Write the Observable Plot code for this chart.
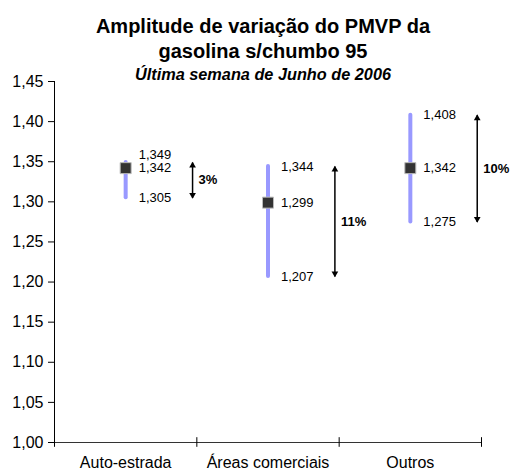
<!DOCTYPE html>
<html>
<head>
<meta charset="utf-8">
<script src="https://cdn.jsdelivr.net/npm/d3@7"></script>
<script src="https://cdn.jsdelivr.net/npm/@observablehq/plot@0.6"></script>
<style>
  body { margin: 0; background: #fff; font-family: "Liberation Sans", Arial, sans-serif; }
  #wrap { position: relative; width: 510px; height: 472px; overflow: hidden; }
  #chart { position: absolute; left: 0; top: 0; }
  .t { position: absolute; left: 0; width: 526px; text-align: center; font-weight: bold; color: #000; white-space: nowrap; }
  #t1 { top: 14px; font-size: 20px; line-height: 25px; }
  #t2 { top: 39px; font-size: 20px; line-height: 25px; }
  #t3 { top: 65px; font-size: 16.3px; line-height: 18px; font-style: italic; }
</style>
</head>
<body>
<div id="wrap">
  <div id="chart"></div>
  <div class="t" id="t1">Amplitude de variação do PMVP da</div>
  <div class="t" id="t2">gasolina s/chumbo 95</div>
  <div class="t" id="t3">Última semana de Junho de 2006</div>
</div>
<script>
const categories = ["Auto-estrada", "Áreas comerciais", "Outros"];
const minValues = [1.305, 1.207, 1.275];
const avgValues = [1.342, 1.299, 1.342];
const maxValues = [1.349, 1.344, 1.408];
const pctLabels = ["3%", "11%", "10%"];
const yTicks = [1.00, 1.05, 1.10, 1.15, 1.20, 1.25, 1.30, 1.35, 1.40, 1.45];

const data = categories.map((c, i) => ({
  cat: c, i,
  lo: minValues[i], avg: avgValues[i], hi: maxValues[i],
  pct: pctLabels[i], mid: (minValues[i] + maxValues[i]) / 2
}));
const fmt = d => d.toFixed(3).replace(".", ",");
const font = "Liberation Sans, Arial, sans-serif";
const ax = d => d.i + 0.97;

const chart = Plot.plot({
  width: 510, height: 472,
  marginLeft: 54, marginRight: 29, marginTop: 81, marginBottom: 30,
  style: { fontFamily: font, background: "transparent", color: "#000" },
  x: { type: "linear", domain: [0, categories.length] },
  y: { domain: [1.0, 1.45] },
  marks: [
    Plot.axisY({ ticks: yTicks, tickFormat: d => d.toFixed(2).replace(".", ","), tickSize: 6, tickPadding: 5, fontSize: 16, stroke: "#000" }),
    Plot.axisX({ ticks: categories.map((c, i) => i + 0.5), tickFormat: d => categories[Math.floor(d)], tickSize: 0, tickPadding: 14, fontSize: 16 }),
    Plot.ruleX([0], { y1: 1.0, y2: 1.45, stroke: "#000" }),
    Plot.ruleY([1.0], { stroke: "#333", strokeWidth: 1.2 }),
    Plot.ruleX(d3.range(categories.length + 1), { y1: 0.994, y2: 1.006, stroke: "#000" }),
    Plot.ruleX(data, { x: d => d.i + 0.5, y1: "lo", y2: "hi", stroke: "#9999ff", strokeWidth: 4, strokeLinecap: "round" }),
    Plot.dot(data, { x: d => d.i + 0.5, y: "avg", symbol: "square", r: 6.2, fill: "#333", stroke: "#bbb", strokeWidth: 1 }),
    Plot.text(data, { x: d => d.i + 0.5, y: "avg", text: d => fmt(d.avg), dx: 13, textAnchor: "start", fontSize: 13, fill: "#000" }),
    Plot.text(data, { x: d => d.i + 0.5, y: "lo", text: d => fmt(d.lo), dx: 13, textAnchor: "start", fontSize: 13, fill: "#000" }),
    Plot.text(data.filter(d => d.i === 0), { x: d => d.i + 0.5, y: "hi", text: d => fmt(d.hi), dx: 13, dy: -8, textAnchor: "start", fontSize: 13, fill: "#000" }),
    Plot.text(data.filter(d => d.i !== 0), { x: d => d.i + 0.5, y: "hi", text: d => fmt(d.hi), dx: 13, textAnchor: "start", fontSize: 13, fill: "#000" }),
    Plot.link(data, { x1: ax, x2: ax, y1: "lo", y2: "hi", stroke: "#000", strokeWidth: 1.5 }),
    Plot.dot(data, { x: ax, y: "hi", symbol: "triangle2", r: 3.2, fill: "#000", stroke: "none", dy: 3 }),
    Plot.dot(data, { x: ax, y: "lo", symbol: "triangle2", r: 3.2, fill: "#000", stroke: "none", rotate: 180, dy: -3 }),
    Plot.text(data, { x: ax, y: "mid", text: "pct", dx: 6, textAnchor: "start", fontSize: 13, fontWeight: "bold", fill: "#000" })
  ]
});
document.getElementById("chart").appendChild(chart);
</script>
</body>
</html>
